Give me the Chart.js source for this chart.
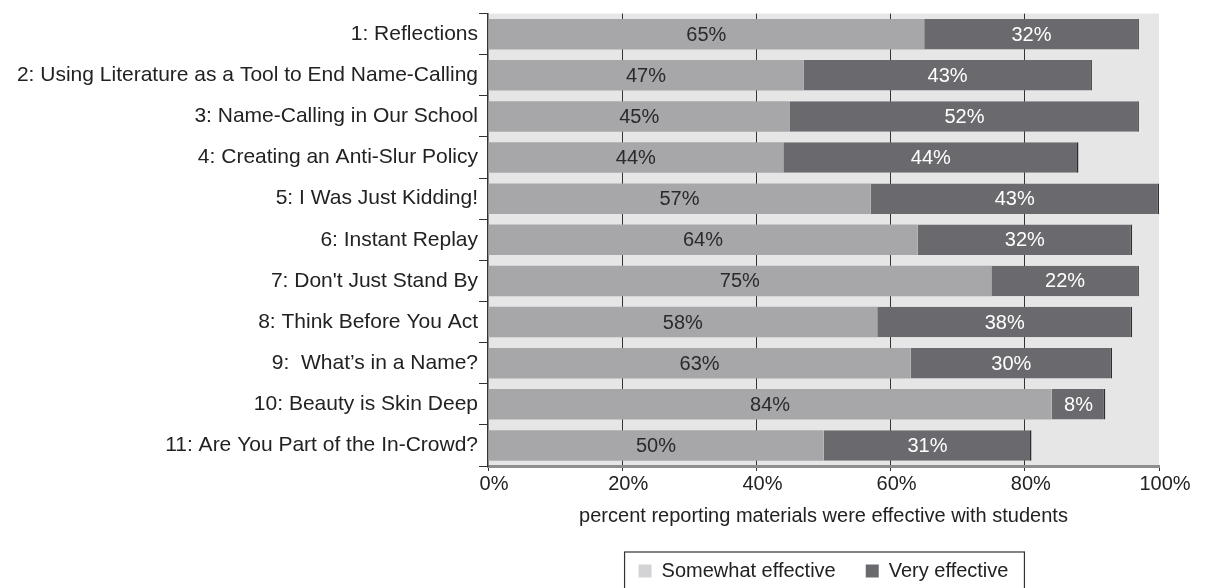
<!DOCTYPE html>
<html>
<head>
<meta charset="utf-8">
<script src="https://cdn.jsdelivr.net/npm/chart.js@4"></script>
<style>
  html, body { margin: 0; padding: 0; background: #fff; }
  #wrap { width: 1212px; height: 588px; }
</style>
</head>
<body>
<div id="wrap"><canvas id="chBars" width="1212" height="588"></canvas></div>
<script>
// chart data
var lessons = [
  '1: Reflections',
  '2: Using Literature as a Tool to End Name-Calling',
  '3: Name-Calling in Our School',
  '4: Creating an Anti-Slur Policy',
  '5: I Was Just Kidding!',
  '6: Instant Replay',
  "7: Don't Just Stand By",
  '8: Think Before You Act',
  '9:  What\u2019s in a Name?',
  '10: Beauty is Skin Deep',
  '11: Are You Part of the In-Crowd?'
];
var somewhat = [65, 47, 45, 44, 57, 64, 75, 58, 63, 84, 50];
var very = [32, 43, 52, 44, 43, 32, 22, 38, 30, 8, 31];
var seriesNames = ['Somewhat effective', 'Very effective'];
var xTicks = [0, 20, 40, 60, 80, 100];

// colors
var barColors = ['#a7a7aa', '#6a6a6e'];
var legendColors = ['#d3d3d5', '#6a6a6e'];
var labelColors = ['#2a2a2a', '#ffffff'];
var font = '"Liberation Sans", Arial, Helvetica, sans-serif';

Chart.defaults.font.family = font;
Chart.defaults.font.size = 20;
Chart.defaults.color = '#222';

// grey plot background
var plotBg = {
  id: 'plotBg',
  beforeDraw: function(chart) {
    var a = chart.chartArea, ctx = chart.ctx;
    ctx.save();
    ctx.fillStyle = '#e6e6e7';
    ctx.fillRect(a.left, a.top, a.right - a.left, a.bottom - a.top);
    ctx.restore();
  }
};

// value labels in the middle of each segment
var barLabels = {
  id: 'barLabels',
  afterDatasetsDraw: function(chart) {
    var ctx = chart.ctx;
    ctx.save();
    ctx.font = '20px ' + font;
    ctx.textAlign = 'center';
    ctx.textBaseline = 'middle';
    chart.data.datasets.forEach(function(ds, di) {
      var meta = chart.getDatasetMeta(di);
      ctx.fillStyle = labelColors[di];
      meta.data.forEach(function(el, i) {
        var p = el.getProps(['x', 'y', 'base'], true);
        ctx.fillText(ds.data[i] + '%', (p.x + p.base) / 2, p.y + 1);
      });
    });
    ctx.restore();
  }
};

// frame round the legend
var legendFrame = {
  id: 'legendFrame',
  afterDraw: function(chart) {
    var boxes = chart.legend && chart.legend.legendHitBoxes;
    if (!boxes || !boxes.length) return;
    var first = boxes[0], last = boxes[boxes.length - 1];
    var ctx = chart.ctx;
    ctx.save();
    ctx.strokeStyle = '#333';
    ctx.lineWidth = 1.2;
    ctx.strokeRect(first.left - 14, first.top - 9, last.left + last.width - first.left + 30, 60);
    ctx.restore();
  }
};

var chBars = document.getElementById('chBars');
new Chart(chBars, {
  type: 'bar',
  data: {
    labels: lessons,
    datasets: [
      {
        label: seriesNames[0],
        data: somewhat,
        backgroundColor: barColors[0],
        borderWidth: 0,
        barPercentage: 0.74,
        categoryPercentage: 1
      },
      {
        label: seriesNames[1],
        data: very,
        backgroundColor: barColors[1],
        borderColor: '#2e2e2e',
        borderWidth: {top: 0, right: 1.5, bottom: 0, left: 0},
        borderSkipped: false,
        barPercentage: 0.74,
        categoryPercentage: 1
      }
    ]
  },
  options: {
    responsive: false,
    animation: false,
    indexAxis: 'y',
    layout: {padding: {top: 12, right: 53, left: 0, bottom: -3}},
    scales: {
      x: {
        stacked: true,
        min: 0,
        max: 100,
        afterBuildTicks: function(scale) {
          scale.ticks = xTicks.map(function(v) { return {value: v}; });
        },
        ticks: {
          callback: function(v) { return v + '%'; },
          padding: 1,
          labelOffset: 6,
          color: '#222',
          maxRotation: 0
        },
        grid: {
          color: function(c) {
            return (c.tick && (c.tick.value === 0 || c.tick.value === 100)) ? 'rgba(0,0,0,0)' : '#333';
          },
          tickColor: '#333',
          tickLength: 5,
          lineWidth: 1
        },
        border: {display: true, color: '#8e8e90', width: 3},
        title: {
          display: true,
          text: 'percent reporting materials were effective with students',
          color: '#222',
          padding: {top: 7, bottom: 3}
        }
      },
      y: {
        stacked: true,
        afterFit: function(scale) { scale.width = 488; },
        ticks: {color: '#222', padding: 1, font: {size: 21}},
        grid: {
          offset: true,
          drawOnChartArea: false,
          color: '#333',
          tickLength: 9
        },
        border: {display: true, color: '#333', width: 1.5}
      }
    },
    plugins: {
      tooltip: {enabled: false},
      legend: {
        position: 'bottom',
        fullSize: false,
        labels: {
          boxWidth: 13,
          boxHeight: 13,
          padding: 30,
          color: '#222',
          generateLabels: function(chart) {
            return Chart.defaults.plugins.legend.labels.generateLabels(chart).map(function(l, i) {
              l.fillStyle = legendColors[i];
              l.strokeStyle = legendColors[i];
              l.lineWidth = 0;
              return l;
            });
          }
        }
      }
    }
  },
  plugins: [plotBg, barLabels, legendFrame]
});
</script>
</body>
</html>
